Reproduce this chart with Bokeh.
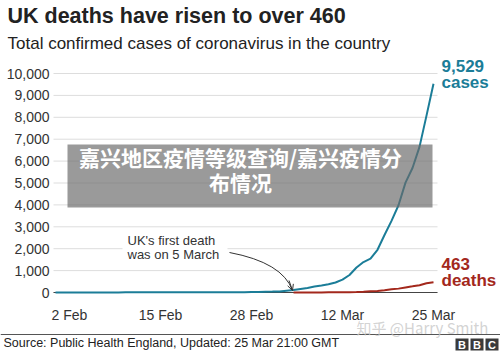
import pandas as pd
from bokeh.plotting import figure
from bokeh.models import (Range1d, FixedTicker, Label, BoxAnnotation, Arrow,
                          OpenHead, NumeralTickFormatter)
from bokeh.embed import file_html
from bokeh.resources import INLINE

# ---------------- data ----------------
case_dates = pd.date_range("2020-01-31", "2020-03-25").strftime("%Y-%m-%d").tolist()
cases = [2,
         2, 2, 2, 2, 2, 3, 3, 3, 4, 8, 8, 9, 9, 9, 9, 9, 9, 9, 9, 9, 9, 9, 13, 13, 13, 13, 15, 20, 23,
         36, 40, 51, 85, 115, 163, 206, 273, 321, 373, 456, 590, 798, 1140, 1391, 1543, 1950,
         2626, 3269, 3983, 5018, 5683, 6650, 8077, 9529]
death_dates = pd.date_range("2020-03-05", "2020-03-25").strftime("%Y-%m-%d").tolist()
deaths = [0, 2, 2, 3, 4, 6, 8, 8, 10, 21, 35, 55, 71, 104, 144, 177, 233, 281, 335, 422, 463]
tick_dates = ["2020-02-02", "2020-02-15", "2020-02-28", "2020-03-12", "2020-03-25"]
tick_labels = ["2 Feb", "15 Feb", "28 Feb", "12 Mar", "25 Mar"]
y_ticks = [0, 1000, 2000, 3000, 4000, 5000, 6000, 7000, 8000, 9000, 10000]

BASE = pd.Timestamp("2020-01-01")
def day(d):
    return (pd.Timestamp(d) - BASE).days

cx = [day(d) for d in case_dates]
dx = [day(d) for d in death_dates]
tx = [day(d) for d in tick_dates]

# ---------------- layout (frame = whole canvas) ----------------
W, H = 500, 351
PL, PR, PB = 53, 437, 300   # plot-area left/right, x-axis position
ZERO_Y = 292                  # canvas y of value 0
PXD = 7.0                     # px per day
PXV = 0.0219                  # px per case
x0 = day("2020-02-02") - 69 / PXD
x1 = x0 + W / PXD
y0 = (ZERO_Y - H) / PXV
y1 = ZERO_Y / PXV

def sx(X):
    return X

def sy(Y):
    return H - Y

def dxp(X):
    return x0 + X / PXD

def dyp(Y):
    return (ZERO_Y - Y) / PXV

FONT = "Liberation Sans"
TEAL = "#1b7d98"
RED = "#a3281c"

p = figure(width=W, height=H, output_backend="svg", toolbar_location=None,
           x_range=Range1d(x0, x1), y_range=Range1d(y0, y1),
           min_border=0, background_fill_color="white", border_fill_color="white")
p.outline_line_color = None

p.xaxis.ticker = FixedTicker(ticks=tx)
p.xaxis.major_label_overrides = {t: l for t, l in zip(tx, tick_labels)}
p.yaxis.ticker = FixedTicker(ticks=y_ticks)
p.yaxis.formatter = NumeralTickFormatter(format="0,0")
for ax in (p.xaxis, p.yaxis):
    ax.axis_line_color = None
    ax.major_tick_line_color = None
    ax.minor_tick_line_color = None
    ax.major_tick_out = 0
    ax.major_tick_in = 0
    ax.major_label_text_font = FONT
    ax.major_label_text_font_size = "14px"
    ax.major_label_text_color = "#333333"
p.xaxis.fixed_location = dyp(PB)
p.yaxis.fixed_location = dxp(PL)
p.xaxis.major_label_standoff = 6
p.yaxis.major_label_standoff = 4

p.xgrid.grid_line_color = None
p.ygrid.grid_line_color = None

# horizontal grid lines (from the y ticks) limited to the plot area
n = len(y_ticks)
p.segment(x0=[dxp(PL)] * n, x1=[dxp(PR)] * n, y0=y_ticks, y1=y_ticks,
          line_color="#dddddd", line_width=1)
p.segment(x0=[dxp(PL)], x1=[dxp(PR)], y0=[0], y1=[0], line_color="#444444", line_width=1)

# annotation background and text
p.add_layout(BoxAnnotation(left=sx(122), right=sx(227), top=sy(233), bottom=sy(262),
                           left_units="screen", right_units="screen",
                           top_units="screen", bottom_units="screen",
                           fill_color="white", fill_alpha=1, line_color=None))
for t, Y in (("UK's first death", 240), ("was on 5 March", 254)):
    p.add_layout(Label(x=sx(127), y=sy(Y), x_units="screen", y_units="screen",
                       text=t, text_font=FONT, text_font_size="13px",
                       text_color="#333333", text_baseline="middle"))

# curved arrow
p.quadratic(x0=dxp(229), y0=dyp(252), x1=dxp(292), y1=dyp(290),
            cx=dxp(282), cy=dyp(262), line_color="#333333", line_width=1)
p.add_layout(Arrow(x_start=dxp(288.5), y_start=dyp(280), x_end=dxp(292), y_end=dyp(290),
                   line_color="#333333", line_width=1,
                   end=OpenHead(size=6, line_color="#333333", line_width=1)))

# data lines
p.line(cx, cases, line_color=TEAL, line_width=2)
p.line(dx, deaths, line_color=RED, line_width=2)

# end labels
for t, Y in (("9,529", 65), ("cases", 82)):
    p.add_layout(Label(x=sx(441), y=sy(Y), x_units="screen", y_units="screen", text=t,
                       text_font=FONT, text_font_style="bold", text_font_size="17px",
                       text_color=TEAL, text_baseline="middle"))
for t, Y in (("463", 263), ("deaths", 280)):
    p.add_layout(Label(x=sx(441), y=sy(Y), x_units="screen", y_units="screen", text=t,
                       text_font=FONT, text_font_style="bold", text_font_size="17px",
                       text_color=RED, text_baseline="middle"))

# titles
p.add_layout(Label(x=sx(7), y=sy(15), x_units="screen", y_units="screen",
                   text="UK deaths have risen to over 460", text_font=FONT,
                   text_font_style="bold", text_font_size="21.5px", text_color="#222222",
                   text_baseline="middle"))
p.add_layout(Label(x=sx(7), y=sy(43), x_units="screen", y_units="screen",
                   text="Total confirmed cases of coronavirus in the country", text_font=FONT,
                   text_font_size="17px", text_color="#222222", text_baseline="middle"))

# footer
p.add_layout(BoxAnnotation(left=sx(0), right=sx(500), top=sy(333.5), bottom=sy(334.5),
                           left_units="screen", right_units="screen",
                           top_units="screen", bottom_units="screen",
                           fill_color="#555555", fill_alpha=1, line_color=None))
p.add_layout(Label(x=sx(3), y=sy(342), x_units="screen", y_units="screen",
                   text="Source: Public Health England, Updated: 25 Mar 21:00 GMT", text_font=FONT,
                   text_font_size="12.5px", text_color="#222222", text_baseline="middle"))
for L, ch in ((455, "B"), (470, "B"), (485, "C")):
    p.add_layout(BoxAnnotation(left=sx(L), right=sx(L + 13), top=sy(338), bottom=sy(350),
                               left_units="screen", right_units="screen",
                               top_units="screen", bottom_units="screen",
                               fill_color="#3a3a3a", fill_alpha=1, line_color=None))
    p.add_layout(Label(x=sx(L + 6.5), y=sy(344), x_units="screen", y_units="screen", text=ch,
                       text_font=FONT, text_font_style="bold", text_font_size="11px",
                       text_color="white", text_align="center", text_baseline="middle"))

# watermark
p.add_layout(Label(x=sx(356), y=sy(327), x_units="screen", y_units="screen",
                   text="知乎 @Harry Smith", text_font="Noto Sans CJK SC",
                   text_font_size="15px", text_color="#c8c8c8", text_alpha=0.8,
                   text_baseline="middle"))

# overlay banner
p.add_layout(BoxAnnotation(left=sx(67), right=sx(432), top=sy(144), bottom=sy(207),
                           left_units="screen", right_units="screen",
                           top_units="screen", bottom_units="screen",
                           fill_color="#6a6a6a", fill_alpha=0.68, line_color=None,
                           level="overlay"))
for t, Y in (("嘉兴地区疫情等级查询/嘉兴疫情分", 156), ("布情况", 181)):
    p.add_layout(Label(x=sx(240), y=sy(Y), x_units="screen", y_units="screen", text=t,
                       text_font="Noto Sans CJK SC", text_font_style="bold",
                       text_font_size="21px", text_color="white", text_align="center",
                       text_baseline="middle", level="overlay"))

open("out.html", "w").write(file_html(p, INLINE))
